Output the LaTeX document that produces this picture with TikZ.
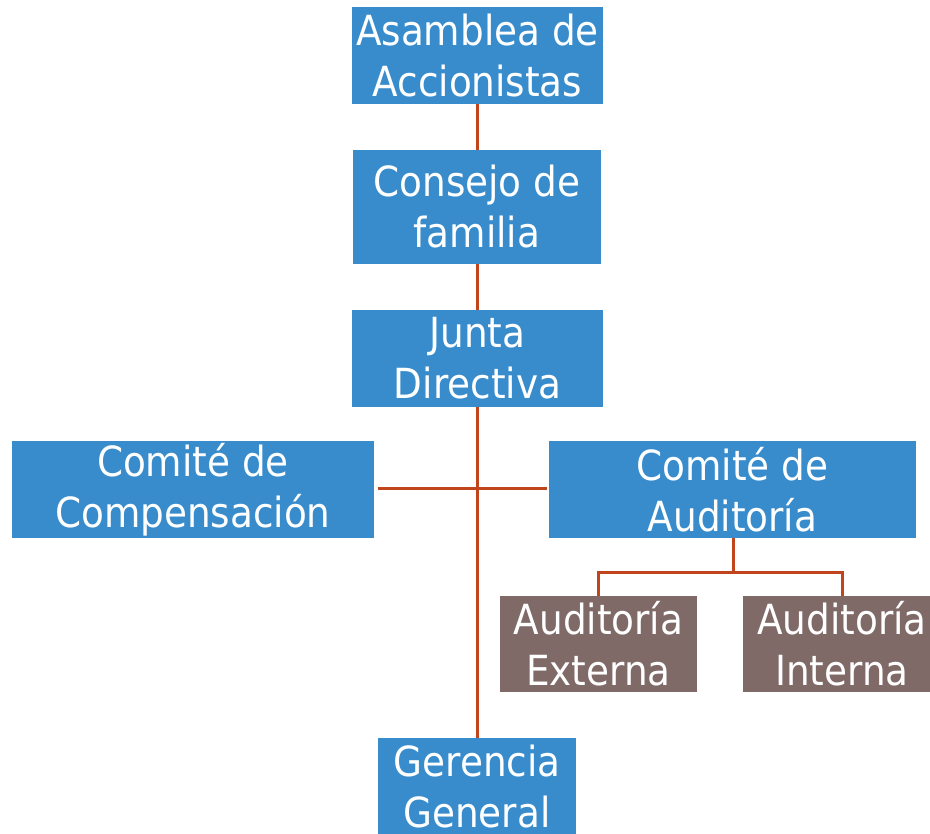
\documentclass[tikz,border=0pt]{standalone}
\usepackage{fontspec}
\setmainfont{DejaVu Sans Condensed}
\definecolor{boxblue}{HTML}{388CCC}
\definecolor{boxbrown}{HTML}{7F6A68}
\definecolor{linkred}{HTML}{C0441C}
\begin{document}
\begin{tikzpicture}[x=1pt,y=-1pt,
  orgbox/.style={fill=boxblue, text=white, inner sep=0pt, align=center,
    font=\fontsize{41.5}{51}\selectfont},
  subbox/.style={orgbox, fill=boxbrown},
  link/.style={draw=linkred, line width=3pt}]
\useasboundingbox (0,0) rectangle (930,834);
\node[orgbox, minimum width=251pt, minimum height=97pt] (asam) at (477.5,55.5) {Asamblea de\\Accionistas};
\node[orgbox, minimum width=248pt, minimum height=114pt] (cons) at (477,207) {Consejo de\\familia};
\node[orgbox, minimum width=251pt, minimum height=97pt] (junta) at (477.5,358.5) {Junta\\Directiva};
\node[orgbox, minimum width=362pt, minimum height=97pt] (comp) at (193,489.5) {Comité de\\Compensación};
\node[orgbox, minimum width=367pt, minimum height=97pt] (aud) at (732.5,489.5) {Comité de\\Auditoría};
\node[subbox, minimum width=197pt, minimum height=96pt] (ext) at (598.5,644) {Auditoría\\Externa};
\node[subbox, minimum width=198pt, minimum height=96pt] (int) at (842,644) {Auditoría\\Interna};
\node[orgbox, minimum width=198pt, minimum height=98pt] (ger) at (477,787) {Gerencia\\General};
\coordinate (hub) at (477,489);
\coordinate (split) at (733,572);
\path[link] (477,104) -- (477,150);
\path[link] (477,264) -- (477,310);
\path[link] (477,407) -- (ger.north);
\path[link] ([xshift=4pt]comp.east |- hub) -- ([xshift=-2pt]aud.west |- hub);
\path[link] (aud.south -| split) -- (split) -| (ext.north);
\path[link] (split) -| (int.north);
\end{tikzpicture}
\end{document}
